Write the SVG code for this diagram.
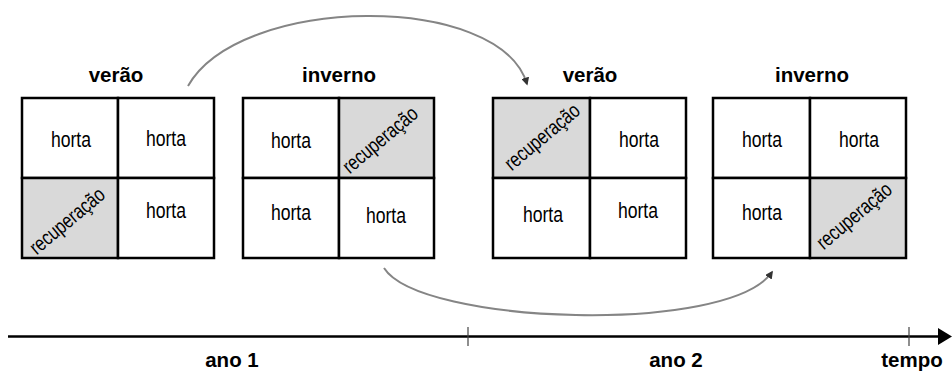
<svg xmlns="http://www.w3.org/2000/svg" width="952" height="372" viewBox="0 0 952 372">
  <style>
    .cell { fill: #ffffff; stroke: #000000; stroke-width: 2.5; }
    .rec { fill: #d9d9d9; stroke: #000000; stroke-width: 2.5; }
    .h { font-family: "Liberation Sans", Arial, sans-serif; font-size: 22px; fill: #000; text-anchor: middle; }
    .r { font-family: "Liberation Sans", Arial, sans-serif; font-size: 21px; fill: #000; text-anchor: middle; }
    .t { font-family: "Liberation Sans", Arial, sans-serif; font-weight: bold; font-size: 20.5px; fill: #000; text-anchor: middle; }
    .arc { fill: none; stroke: #858585; stroke-width: 2; }
  </style>
  <defs>
    <marker id="ah" viewBox="0 0 10 10" refX="8" refY="5" markerWidth="4" markerHeight="4" orient="auto" markerUnits="strokeWidth">
      <path d="M0,0 L10,5 L0,10 z" fill="#333"/>
    </marker>
  </defs>
  <rect width="952" height="372" fill="#ffffff"/>

  <g id="grid1">
    <text class="t" x="116" y="82">verão</text>
    <rect class="cell" x="22" y="98" width="96" height="80"/>
    <rect class="cell" x="118" y="98" width="96" height="80"/>
    <rect class="rec" x="22" y="178" width="96" height="80"/>
    <rect class="cell" x="118" y="178" width="96" height="80"/>
    <text class="h" transform="translate(71,147) scale(0.8,1)">horta</text>
    <text class="h" transform="translate(166,146) scale(0.8,1)">horta</text>
    <text class="h" transform="translate(166,218) scale(0.8,1)">horta</text>
    <text class="r" transform="translate(68,222) rotate(-40) scale(0.78,1)" x="0" y="5.5">recuperação</text>
  </g>

  <g id="grid2">
    <text class="t" x="339" y="82">inverno</text>
    <rect class="cell" x="243" y="98" width="96" height="80"/>
    <rect class="rec" x="339" y="98" width="95" height="80"/>
    <rect class="cell" x="243" y="178" width="96" height="80"/>
    <rect class="cell" x="339" y="178" width="95" height="80"/>
    <text class="h" transform="translate(291,148) scale(0.8,1)">horta</text>
    <text class="h" transform="translate(291,220) scale(0.8,1)">horta</text>
    <text class="h" transform="translate(386,223) scale(0.8,1)">horta</text>
    <text class="r" transform="translate(381,141) rotate(-40) scale(0.78,1)" x="0" y="5.5">recuperação</text>
  </g>

  <g id="grid3">
    <text class="t" x="590" y="82">verão</text>
    <rect class="rec" x="493" y="98" width="97" height="80"/>
    <rect class="cell" x="590" y="98" width="96" height="80"/>
    <rect class="cell" x="493" y="178" width="97" height="80"/>
    <rect class="cell" x="590" y="178" width="96" height="80"/>
    <text class="h" transform="translate(639,147) scale(0.8,1)">horta</text>
    <text class="h" transform="translate(543,222) scale(0.8,1)">horta</text>
    <text class="h" transform="translate(638,218) scale(0.8,1)">horta</text>
    <text class="r" transform="translate(543,138) rotate(-40) scale(0.78,1)" x="0" y="5.5">recuperação</text>
  </g>

  <g id="grid4">
    <text class="t" x="812" y="82">inverno</text>
    <rect class="cell" x="713" y="98" width="97" height="80"/>
    <rect class="cell" x="810" y="98" width="96" height="80"/>
    <rect class="cell" x="713" y="178" width="97" height="80"/>
    <rect class="rec" x="810" y="178" width="96" height="80"/>
    <text class="h" transform="translate(762,147) scale(0.8,1)">horta</text>
    <text class="h" transform="translate(859,147) scale(0.8,1)">horta</text>
    <text class="h" transform="translate(762,220) scale(0.8,1)">horta</text>
    <text class="r" transform="translate(855,217) rotate(-40) scale(0.78,1)" x="0" y="5.5">recuperação</text>
  </g>

  <g id="connectors">
    <path class="arc" d="M188,86 C240,-6 500,-8 527,84" marker-end="url(#ah)"/>
    <path class="arc" d="M384,268 C420,325 730,335 772,272" marker-end="url(#ah)"/>
  </g>

  <g id="timeline">
    <line x1="8" y1="336.5" x2="940" y2="336.5" stroke="#000" stroke-width="2.5"/>
    <polygon points="938,328 952,336.5 938,345" fill="#000"/>
    <line x1="468" y1="327" x2="468" y2="346" stroke="#444" stroke-width="1.2"/>
    <line x1="909" y1="327" x2="909" y2="346" stroke="#444" stroke-width="1.2"/>
    <text class="t" x="232" y="367">ano 1</text>
    <text class="t" x="676" y="367">ano 2</text>
    <text class="t" x="912" y="367">tempo</text>
  </g>
</svg>
